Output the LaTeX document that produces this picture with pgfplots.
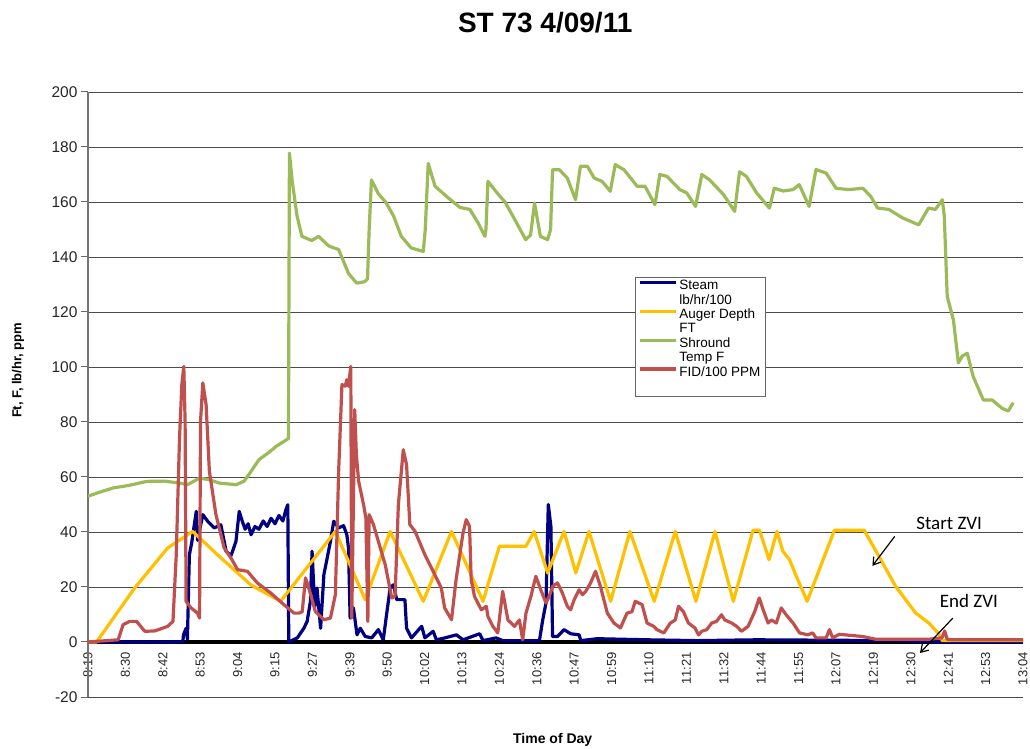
\documentclass[border=0pt]{standalone}
\usepackage{fontspec}
\setmainfont{Liberation Sans}
\newfontfamily\calibri{Carlito}
\usepackage{pgfplots}
\pgfplotsset{compat=1.18}
\usetikzlibrary{arrows.meta}
\definecolor{steam}{RGB}{0,0,128}
\definecolor{auger}{RGB}{255,192,0}
\definecolor{shroud}{RGB}{155,187,89}
\definecolor{fid}{RGB}{192,80,77}
\begin{document}
\begin{tikzpicture}
\begin{axis}[
  at={(0pt,0pt)}, anchor=south west,
  scale only axis, width=935pt, height=605pt,
  xmin=0, xmax=285, ymin=-20, ymax=200,
  no markers,
  axis line style={draw=none},
  ytick={-20,0,20,40,60,80,100,120,140,160,180,200},
  xtick={0,11.4,22.8,34.2,45.6,57,68.4,79.8,91.2,102.6,114,125.4,136.8,148.2,159.6,171,182.4,193.8,205.2,216.6,228,239.4,250.8,262.2,273.6,285},
  xticklabels={8:19,8:30,8:42,8:53,9:04,9:15,9:27,9:39,9:50,10:02,10:13,10:24,10:36,10:47,10:59,11:10,11:21,11:32,11:44,11:55,12:07,12:19,12:30,12:41,12:53,13:04},
  xticklabel style={yshift=55pt, rotate=90, anchor=east, font=\fontsize{13}{13}\selectfont, text=black!85},
  yticklabel style={font=\fontsize{15.5}{15.5}\selectfont, text=black!85},
  /pgf/number format/assume math mode=true,
  xtick style={draw=none},
  ytick pos=left, tick align=outside,
  ytick style={black!60, line width=1pt}, major tick length=7pt,
  ymajorgrids, grid style={black!70, line width=0.9pt},
  extra y ticks={0}, extra y tick labels={},
  extra y tick style={grid=major, grid style={black, line width=3.2pt}, major tick length=0pt},
  extra x ticks={0}, extra x tick labels={},
  extra x tick style={grid=major, grid style={black!55, line width=1.5pt}, major tick length=0pt},
  title={ST 73 4/09/11},
  title style={font=\bfseries\fontsize{28}{28}\selectfont, at={(axis description cs:0.489,1)}, anchor=south, yshift=49pt},
  xlabel={Time of Day},
  xlabel style={font=\bfseries\fontsize{14}{14}\selectfont, at={(axis description cs:0.497,-0.071)}, anchor=center},
  ylabel={Ft, F, lb/hr, ppm},
  ylabel style={font=\bfseries\fontsize{13}{13}\selectfont, at={(axis description cs:-0.0749,0.54)}, anchor=center},
  legend style={at={(axis description cs:0.585,0.694)}, anchor=north west, draw=black!60, fill=white,
    font=\fontsize{13.5}{14.4}\selectfont, inner xsep=3pt, inner ysep=2pt, row sep=0pt,
    nodes={inner ysep=0.4pt, inner xsep=2pt, text height=10pt, text depth=3.6pt}},
  legend cell align=left,
  legend image code/.code={\draw[#1] (0pt,4pt) -- (36pt,4pt);},
  every axis plot/.append style={line width=3.2pt, line join=round},
]
% Steam lb/hr/100
\addplot[steam] coordinates {
(0,0) (28.9,0) (29.1,2.6) (29.9,5) (30.3,1) (30.9,31.7) (31.6,36) (33.0,47.5) (33.4,37) (35.0,46.3) (36.5,43.9) (38.5,41.5) (40.5,42.6) (42.1,33) (43.6,31.4) (45.1,36.6) (46.1,47.5) (47.0,44) (47.9,41) (48.8,43) (49.7,39) (50.9,42) (52.1,41) (53.4,44) (54.6,42) (55.8,45) (57.0,43) (58.2,46) (59.4,44) (60.3,48) (60.9,49.9) (61.2,0) (63.8,1.5) (65.8,5) (66.8,7.5) (67.8,14.8) (68.3,33) (69.1,12.7) (69.8,19.6) (70.9,5) (71.9,24.5) (72.9,30.5) (73.9,36.6) (74.9,43.9) (76.4,41.5) (77.9,42.3) (78.9,39) (79.4,34.2) (79.9,8.7) (80.9,12.4) (82.0,2.6) (83.0,5) (84.5,2) (86.5,1.5) (88.5,4.5) (90.0,0.8) (91.0,9.9) (92.1,19.6) (93.1,20.8) (94.1,15.4) (96.6,15.4) (97.1,5) (98.6,1.5) (101.7,5.7) (102.7,1.5) (105.2,3.9) (106.2,0.8) (108.8,1.5) (112.3,2.6) (114.3,0.8) (119.4,3) (120.4,0.5) (124.4,1.5) (126.4,0.5) (137.6,0.5) (138.6,8) (139.6,14.2) (140.3,50) (141.1,42) (141.6,2) (143.1,2) (145.1,4.5) (147.1,3) (149.7,2.6) (150.2,0.5) (155.2,1.2) (170.4,0.8) (185.6,0.5) (203.8,0.8) (246.2,0.5) (258.3,0) (285,0)
};
\addlegendentry{Steam}
\addlegendimage{empty legend}
\addlegendentry{lb/hr/100}
% Auger Depth FT
\addplot[auger] coordinates {
(0,0) (2.6,0) (14.2,19.6) (24.3,34.2) (31.9,40.2) (39.5,31.7) (49.6,20.8) (58.7,14.8) (75.4,40.2) (84.5,15.4) (92.1,40.2) (102.2,14.8) (110.8,40.2) (120.4,14.8) (125.4,34.8) (133.5,34.8) (136.0,40.2) (140.1,25.1) (145.1,40.2) (148.7,25.1) (152.7,40.2) (159.3,14.8) (165.2,40.2) (172.6,14.8) (179.0,40.2) (185.3,14.8) (191.1,40.2) (196.7,14.8) (202.7,40.6) (204.7,40.6) (207.6,29.9) (210.0,40.2) (211.8,33) (213.8,30) (215.9,23.9) (219.2,14.8) (227.5,40.6) (236.6,40.6) (241.1,31.1) (246.2,20.2) (252.3,10.5) (256.3,6.9) (259.3,3) (260.4,0.5) (285,0.5)
};
\addlegendentry{Auger Depth}
\addlegendimage{empty legend}
\addlegendentry{FT}
% Shround Temp F
\addplot[shroud] coordinates {
(0,53) (3.6,54.5) (7.6,56) (12.7,57) (17.9,58.4) (23.3,58.5) (27.9,57.8) (30.3,57.2) (34.0,59.6) (37.0,59) (40.0,57.8) (45.2,57.2) (47.6,58.5) (49.1,61) (52.1,66.3) (55.2,69) (57.3,71.1) (60.6,73.6) (61.1,74) (61.4,177.8) (62.2,168) (63.7,155) (65.2,147.5) (68.2,146) (70.3,147.5) (73.4,144) (76.4,142.7) (79.4,134) (81.9,130.5) (84.3,131) (85.2,132) (85.7,150) (86.4,168) (88.5,163) (90.7,160) (93.1,155) (95.5,147.5) (98.5,143.3) (102.2,142) (102.8,150) (103.7,174) (105.8,165.7) (109.8,161.5) (113.4,158) (116.4,157.3) (118.9,152.4) (121.0,147.5) (121.3,150) (121.9,167.5) (124.9,163) (127.1,160) (130.1,153.6) (133.4,146.3) (134.9,148) (136.1,159.6) (137.9,147.5) (140.1,146.3) (141.0,150) (141.6,171.7) (143.7,171.7) (146.1,168.7) (148.6,160.8) (150.1,173) (152.2,173) (154.3,168.7) (156.7,167.5) (159.2,163.9) (160.7,173.6) (163.4,171.7) (167.4,165.7) (169.8,165.7) (172.8,159) (174.3,170) (176.5,169.3) (180.4,164.5) (182.5,163.3) (185.2,158.4) (187.1,170) (189.5,168) (193.7,162.7) (197.1,156.6) (198.6,171) (200.7,169.3) (203.8,163.3) (207.7,157.8) (209.2,165) (211.9,164) (214.9,164.5) (216.8,166.3) (219.8,158.4) (221.9,171.8) (225.0,170.5) (228.0,165) (231.9,164.5) (236.2,165) (238.6,162) (240.7,157.8) (244.1,157.3) (248.3,154.2) (253.2,151.7) (256.2,157.8) (258.3,157.3) (260.4,160.8) (261.0,155) (261.9,125.7) (263.8,117) (265.3,101.5) (266.5,104) (268.0,105) (269.8,96.6) (272.9,88) (275.6,88) (278.6,85) (280.5,84) (282.0,87)
};
\addlegendentry{Shround}
\addlegendimage{empty legend}
\addlegendentry{Temp F}
% FID/100 PPM
\addplot[fid] coordinates {
(0,0) (9.2,0.8) (10.7,6.3) (12.7,7.5) (14.8,7.5) (17.3,3.9) (20.3,4) (24.3,5.7) (25.9,7.5) (26.9,31.7) (27.9,74.2) (28.6,93.6) (29.2,100.2) (29.6,80.2) (29.9,14.8) (31.4,12.4) (33.4,10.5) (34.0,8.7) (34.3,80.2) (35.0,94.2) (36.0,86.3) (37.0,62) (39.0,46.3) (41.5,34.2) (43.6,30.5) (45.6,26.3) (48.6,25.7) (51.6,21.5) (55.7,17.8) (59.7,13.6) (62.8,10.5) (64.3,10.5) (65.3,11) (66.3,23.3) (67.3,19.6) (69.3,11.1) (71.9,8.1) (73.9,8.7) (75.4,17.2) (76.4,62) (77.4,93.6) (78.4,93) (78.9,95.4) (79.4,93) (80.1,100.2) (80.4,8.7) (81.3,84.5) (81.8,68.1) (82.5,58.4) (84.0,49.9) (84.7,45.1) (85.3,7.5) (85.7,46.3) (87.0,42.7) (88.5,36.6) (90.6,28.1) (92.6,16) (93.6,16.8) (94.6,49.9) (96.1,69.9) (97.1,64.5) (98.1,42.7) (99.7,40.2) (102.7,31.7) (105.7,24.5) (107.7,19.6) (108.7,12.4) (110.8,8.1) (112.2,22.7) (114.3,39.6) (115.3,44.5) (116.3,42) (116.8,22.7) (117.8,16.6) (119.9,11.7) (121.4,13) (121.9,9.3) (123.4,5.7) (124.9,3.3) (126.4,18.4) (128.0,8) (130.0,5.7) (131.5,8) (132.5,0.8) (133.5,10.5) (135.0,16.6) (136.5,23.9) (138.0,19) (139.6,14.2) (140.6,16.6) (141.6,20.2) (143.1,21.5) (144.6,17.8) (146.1,13) (147.1,11.7) (148.2,15.4) (149.7,19) (150.7,17.2) (151.7,18.4) (153.2,21.5) (154.7,25.7) (156.2,20.2) (158.3,10.5) (160.3,6.9) (162.3,5.1) (164.3,10.5) (165.8,11) (166.8,14.8) (168.9,13.6) (170.4,6.9) (172.4,5.7) (173.4,4.5) (175.5,3.3) (177.5,6.9) (179.0,8) (180.0,13) (181.5,11) (183.0,6.9) (185.0,5.1) (186.1,2.6) (187.1,3.9) (188.6,4.5) (190.1,6.9) (191.6,7.5) (193.1,9.9) (194.1,8) (196.2,6.9) (197.7,5.7) (199.2,3.9) (201.2,5.7) (203.2,11) (204.6,16) (205.8,11.7) (207.3,6.9) (208.3,8) (209.8,6.9) (211.3,12.4) (212.8,9.9) (214.9,6.9) (216.9,3.3) (219.4,2.6) (220.9,3.3) (221.9,1.5) (225.0,1.5) (226.0,4.5) (227.0,1.5) (229.0,2.8) (236.1,2) (240.1,1) (256.3,1) (260.3,1.5) (261.1,4) (261.9,1) (263.4,0.8) (285,0.8)
};
\addlegendentry{FID/100 PPM}
\addlegendimage{empty legend}
\addlegendentry{}
\node[font=\calibri\fontsize{19}{19}\selectfont] at (axis cs:262.5,43.3) {Start ZVI};
\draw[-{Straight Barb[length=7pt,width=9pt]}, line width=1.2pt] (axis cs:245.9,38.4) -- (axis cs:239.1,27.7);
\node[font=\calibri\fontsize{19}{19}\selectfont] at (axis cs:268.5,14.8) {End ZVI};
\draw[-{Straight Barb[length=7pt,width=9pt]}, line width=1.2pt] (axis cs:263.6,8.7) -- (axis cs:253.6,-4);
\end{axis}
\pgfresetboundingbox
\path (-88pt,-52pt) rectangle (942pt,697pt);
\end{tikzpicture}
\end{document}
